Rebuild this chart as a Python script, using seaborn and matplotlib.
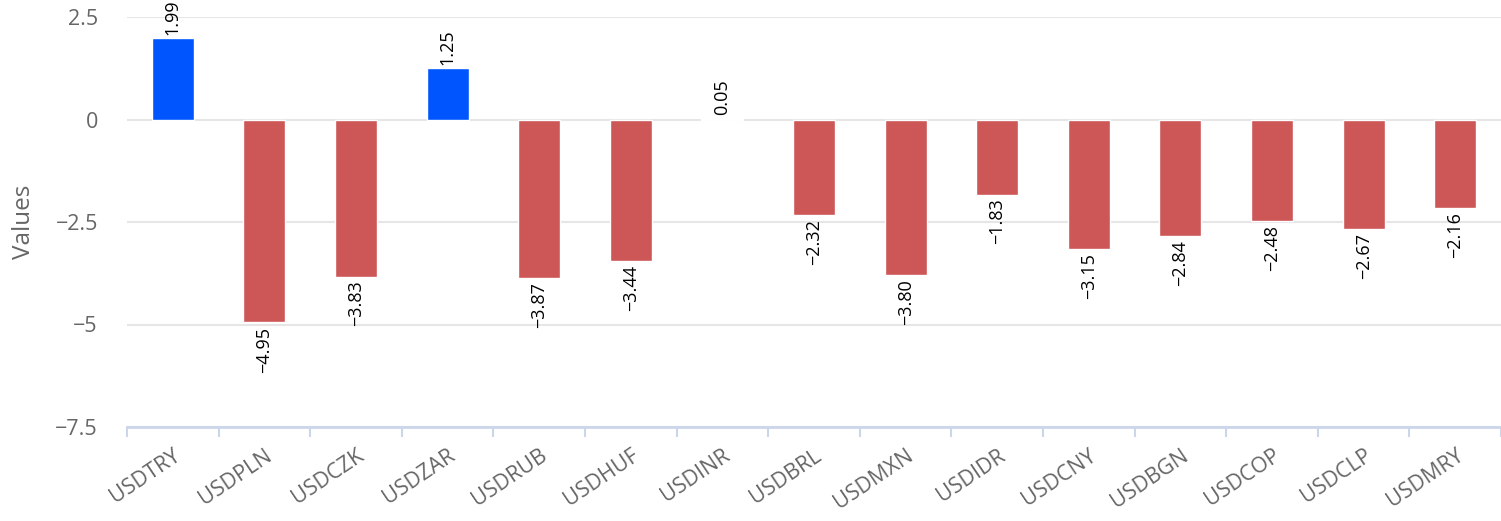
import numpy as np
import pandas as pd
import seaborn as sns
from matplotlib import pyplot as plt

pairs = ['USDTRY', 'USDPLN', 'USDCZK', 'USDZAR', 'USDRUB', 'USDHUF', 'USDINR', 'USDBRL',
         'USDMXN', 'USDIDR', 'USDCNY', 'USDBGN', 'USDCOP', 'USDCLP', 'USDMRY']
values = [1.99, -4.95, -3.83, 1.25, -3.87, -3.44, 0.05, -2.32,
          -3.80, -1.83, -3.15, -2.84, -2.48, -2.67, -2.16]
y_ticks = [-7.5, -5, -2.5, 0, 2.5]
y_tick_labels = ['\u22127.5', '\u22125', '\u22122.5', '0', '2.5']

BLUE = '#0055ff'
RED = '#cd5757'

def bar_color(v):
    # near-zero bars are drawn white in the original
    if abs(v) < 0.1:
        return '#ffffff'
    return BLUE if v > 0 else RED

def fmt(v):
    return f'{v:.2f}'.replace('-', '\u2212')

sns.set_style('white')
plt.rcParams['font.family'] = ['Open Sans', 'DejaVu Sans']

df = pd.DataFrame({'pair': pairs, 'value': values})
palette = {p: bar_color(v) for p, v in zip(pairs, values)}

fig = plt.figure(figsize=(15.01, 5.21), dpi=100)
ax = fig.add_axes([127 / 1501, (521 - 427) / 521, 1 - 127 / 1501, 410 / 521])

sns.barplot(data=df, x='pair', y='value', hue='pair', palette=palette, legend=False,
            width=0.46, edgecolor='white', linewidth=1, saturation=1, ax=ax, zorder=3)

ax.set_ylim(-7.5, 2.5)
ax.set_xlim(-0.5, len(pairs) - 0.5)

ax.set_yticks(y_ticks)
ax.set_yticklabels(y_tick_labels)
ax.yaxis.grid(True, color='#e6e6e6', linewidth=1.5, zorder=0)
ax.tick_params(axis='y', left=False, length=0, labelsize=15.5, labelcolor='#666666', pad=21)

# x axis: ticks on category boundaries, labels at centres
ax.set_xticks(np.arange(-0.5, len(pairs), 1.0))
ax.set_xticklabels([])
ax.set_xticks(np.arange(len(pairs)), minor=True)
ax.set_xticklabels(pairs, minor=True, rotation=34, ha='right', rotation_mode='anchor')
ax.tick_params(axis='x', which='major', bottom=True, length=7.5, width=1.5, color='#ccd6eb',
               direction='out')
ax.tick_params(axis='x', which='minor', bottom=True, length=0, labelsize=15.5,
               labelcolor='#666666', pad=13)

for s in ['top', 'right', 'left']:
    ax.spines[s].set_visible(False)
ax.spines['bottom'].set_color('#ccd6eb')
ax.spines['bottom'].set_linewidth(2)

ax.set_xlabel('')
ax.set_ylabel('Values', fontsize=17.5, color='#666666', labelpad=14)

for i, v in enumerate(values):
    if v >= 0:
        ax.annotate(fmt(v), (i, v), xytext=(0, 2), textcoords='offset points',
                    rotation=90, ha='center', va='bottom', fontsize=13,
                    color='black', annotation_clip=False)
    else:
        ax.annotate(fmt(v), (i, v), xytext=(0, -3), textcoords='offset points',
                    rotation=90, ha='center', va='top', fontsize=13,
                    color='black', annotation_clip=False)

fig.savefig('out.png', dpi=100)
